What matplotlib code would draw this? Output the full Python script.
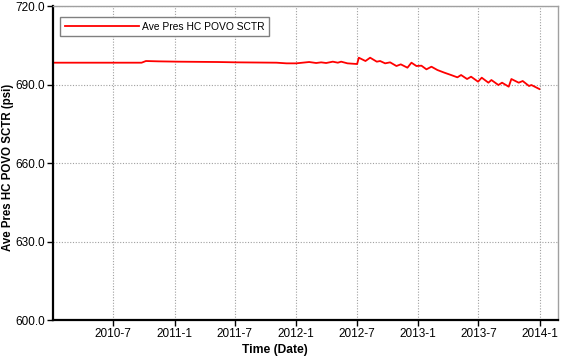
import matplotlib
matplotlib.use("Agg")
import matplotlib.pyplot as plt
import matplotlib.ticker as mticker
import pandas as pd

plt.rcParams['font.family'] = ['Liberation Sans', 'DejaVu Sans']

# Average pressure readings (psi)
dates = ["2010-01-01", "2010-09-24", "2010-10-07", "2010-11-14", "2011-01-12",
         "2011-05-10", "2011-07-08", "2011-11-03", "2011-12-03", "2012-01-01",
         "2012-02-09", "2012-03-01", "2012-03-16", "2012-03-31", "2012-04-20",
         "2012-05-05", "2012-05-15", "2012-06-03", "2012-07-02", "2012-07-07",
         "2012-07-27", "2012-08-10", "2012-08-30", "2012-09-09", "2012-09-24",
         "2012-10-09", "2012-10-28", "2012-11-10", "2012-11-30", "2012-12-12",
         "2012-12-27", "2013-01-11", "2013-01-26", "2013-02-10", "2013-02-28",
         "2013-03-21", "2013-04-10", "2013-04-29", "2013-05-10", "2013-05-28",
         "2013-06-09", "2013-06-30", "2013-07-11", "2013-07-31", "2013-08-09",
         "2013-08-30", "2013-09-10", "2013-09-30", "2013-10-08", "2013-10-30",
         "2013-11-11", "2013-11-30", "2013-12-07", "2013-12-31"]
pressure = [698.34, 698.34, 698.98, 698.85, 698.73,
            698.60, 698.47, 698.34, 698.09, 698.09,
            698.60, 698.22, 698.47, 698.22, 698.73,
            698.34, 698.73, 698.09, 697.83, 700.25,
            698.98, 700.25, 698.73, 698.98, 698.09,
            698.47, 697.07, 697.71, 696.43, 698.34,
            697.07, 697.20, 695.80, 696.81, 695.54,
            694.52, 693.63, 692.74, 693.63, 692.10,
            692.99, 691.08, 692.61, 690.70, 691.72,
            689.81, 690.70, 689.17, 692.10, 690.70,
            691.34, 689.43, 689.81, 688.28]

series_name = "Ave Pres HC POVO SCTR"
y_ticks = [600, 630, 660, 690, 720]
x_ticks = ["2010-07-01", "2011-01-01", "2011-07-01", "2012-01-01",
           "2012-07-01", "2013-01-01", "2013-07-01", "2014-01-01"]

t = pd.to_datetime(dates)
fig = plt.figure(figsize=(5.66, 3.56), dpi=100)
ax = fig.add_axes([0.0936, 0.1011, 0.8923, 0.882])

ax.plot(t, pressure, color='#ff0000', lw=1.3, label=series_name)

ax.set_ylim(600, 720)
ax.set_yticks(y_ticks)
ax.yaxis.set_major_formatter(mticker.FormatStrFormatter('%.1f'))
ax.set_xlim(pd.Timestamp("2010-01-01"), pd.Timestamp("2014-02-25"))
xt = pd.to_datetime(x_ticks)
ax.set_xticks(xt)
ax.set_xticklabels([f"{d.year}-{d.month}" for d in xt])

ax.grid(True, color='#a0a0a0', linestyle=(0, (1, 1.5)), lw=0.8)
ax.tick_params(direction='out', length=4, width=1, labelsize=8.5, colors='black', pad=2)
for s in ['left', 'bottom']:
    ax.spines[s].set_linewidth(1.6)
    ax.spines[s].set_color('black')
for s in ['top', 'right']:
    ax.spines[s].set_linewidth(1.0)
    ax.spines[s].set_color('#a0a0a0')

# label anchors: right edge of the rotated y label, top of the x label
ax.set_ylabel("Ave Pres HC POVO SCTR (psi)", fontsize=8.3, fontweight='bold')
ax.yaxis.set_label_coords(-0.077, 0.487)
ax.set_xlabel("Time (Date)", fontsize=8.7, fontweight='bold')
ax.xaxis.set_label_coords(0.44, -0.076)

leg = ax.legend(loc='upper left', bbox_to_anchor=(0.0139, 0.965), fontsize=7.4,
                borderaxespad=0, fancybox=False, framealpha=1, edgecolor='#808080',
                handlelength=7.2, borderpad=0.45, handletextpad=0.3)
leg.get_frame().set_linewidth(1.0)

fig.savefig("out.png", dpi=100)
